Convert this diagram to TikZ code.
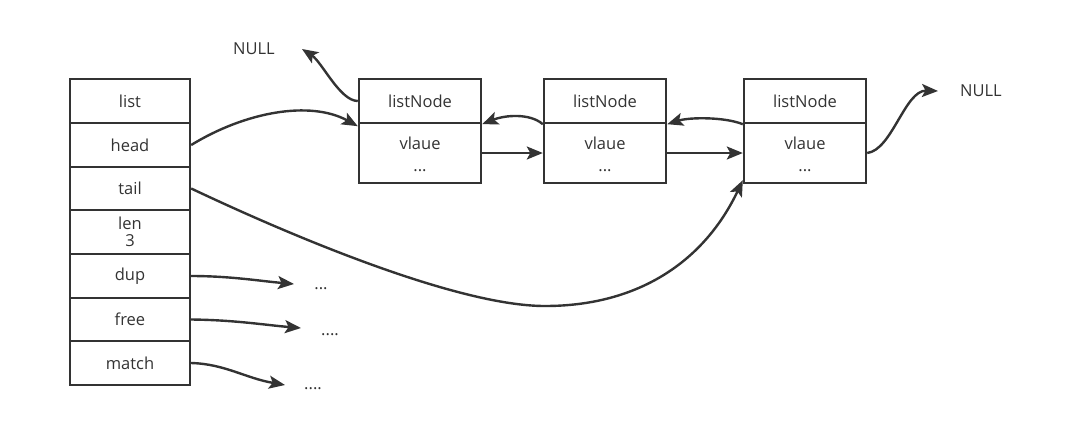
\documentclass[tikz,border=0pt]{standalone}
\usepackage{fontspec}
\setmainfont{Open Sans}
\usetikzlibrary{arrows.meta}
\definecolor{ln}{HTML}{333333}
\begin{document}
\begin{tikzpicture}[x=1pt,y=-1pt,
  box/.style={draw=ln, line width=2.4pt, minimum width=120pt, inner sep=0pt, align=center,
    font=\fontsize{16.5}{22}\selectfont, text=ln},
  nbox/.style={box, minimum width=122pt},
  arr/.style={draw=ln, line width=2.4pt, -{Stealth[length=16pt,width=13pt,inset=3.5pt]}},
  lbl/.style={font=\fontsize{16.5}{18}\selectfont, text=ln, inner sep=0pt}]
\useasboundingbox (0,0) rectangle (1067,445);
% list struct
\node[box, minimum height=44pt] (list) at (130,101) {list};
\node[box, minimum height=44pt] (head) at (130,145) {head};
\node[box, minimum height=43pt] (tail) at (130,188.5) {tail};
\node[box, minimum height=44pt, font=\fontsize{16.5}{17}\selectfont] (len) at (130,232) {len\\3};
\node[box, minimum height=44pt] (dup) at (130,276) {dup};
\node[box, minimum height=43pt] (free) at (130,319.5) {free};
\node[box, minimum height=44pt] (match) at (130,363) {match};
% list nodes
\node[nbox, minimum height=44pt] (n1top) at (420,101) {listNode};
\node[nbox, minimum height=60pt] (n1bot) at (420,153) {\strut vlaue\\...};
\node[nbox, minimum height=44pt] (n2top) at (605,101) {listNode};
\node[nbox, minimum height=60pt] (n2bot) at (605,153) {\strut vlaue\\...};
\node[nbox, minimum height=44pt] (n3top) at (805,101) {listNode};
\node[nbox, minimum height=60pt] (n3bot) at (805,153) {\strut vlaue\\...};
% labels
\node[lbl, anchor=base] (nullL) at (254,54) {NULL};
\node[lbl, anchor=base] (nullR) at (981,96) {NULL};
\node[lbl, anchor=base] (d1) at (321,289) {...};
\node[lbl, anchor=base] (d2) at (330,335) {....};
\node[lbl, anchor=base] (d3) at (313,389) {....};
% free ends
\coordinate (pNL) at (302,49);
\coordinate (pNR) at (938,91);
\coordinate (pD1) at (294,284);
\coordinate (pD2) at (301,328);
\coordinate (pD3) at (285,385);
\coordinate (tailmid) at (545,306);
% connectors
\draw[arr] (head.east) .. controls (245,112) and (310,100) .. ([yshift=-2pt]n1top.south west);
\draw[arr] (tail.east) .. controls (300,240) and (460,306) .. (tailmid)
  .. controls (640,306) and (705,260) .. ([yshift=4pt]n3bot.south west);
\draw[arr] (n1bot.east) -- (n2bot.west);
\draw[arr] (n2bot.east) -- (n3bot.west);
\draw[arr] (n2top.south west) .. controls (530,113) and (505,115) .. (n1top.south east);
\draw[arr] (n3top.south west) .. controls (725,117) and (690,117) .. (n2top.south east);
\draw[arr] (n1top.west) .. controls (340,101) and (322,62) .. (pNL);
\draw[arr] (n3bot.east) .. controls (892,150) and (905,90) .. (pNR);
\draw[arr] (dup.east) .. controls (230,276) and (260,281) .. (pD1);
\draw[arr] (free.east) .. controls (235,320) and (265,325) .. (pD2);
\draw[arr] (match.east) .. controls (225,364) and (245,378) .. (pD3);
\end{tikzpicture}
\end{document}
